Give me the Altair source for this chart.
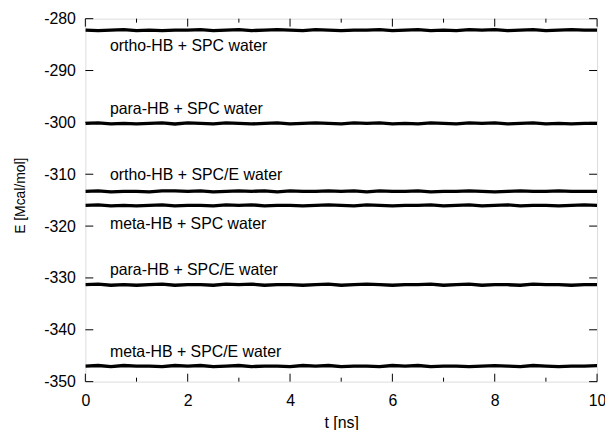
import altair as alt
import pandas as pd

T = [0.0, 0.25, 0.5, 0.75, 1.0, 1.25, 1.5, 1.75, 2.0, 2.25, 2.5, 2.75, 3.0, 3.25,
     3.5, 3.75, 4.0, 4.25, 4.5, 4.75, 5.0, 5.25, 5.5, 5.75, 6.0, 6.25, 6.5, 6.75,
     7.0, 7.25, 7.5, 7.75, 8.0, 8.25, 8.5, 8.75, 9.0, 9.25, 9.5, 9.75, 10.0]

ortho_spc = [-282.2, -282.3, -282.2, -282.1, -282.3, -282.2, -282.3, -282.2, -282.2, -282.1,
             -282.3, -282.2, -282.1, -282.3, -282.2, -282.1, -282.2, -282.3, -282.1, -282.2,
             -282.3, -282.2, -282.2, -282.1, -282.3, -282.2, -282.1, -282.3, -282.2, -282.3,
             -282.1, -282.2, -282.1, -282.3, -282.2, -282.1, -282.3, -282.2, -282.1, -282.2,
             -282.2]
para_spc = [-300.2, -300.1, -300.3, -300.2, -300.3, -300.2, -300.1, -300.3, -300.1, -300.2,
            -300.3, -300.1, -300.2, -300.3, -300.2, -300.1, -300.3, -300.2, -300.1, -300.2,
            -300.3, -300.1, -300.2, -300.1, -300.3, -300.2, -300.3, -300.1, -300.2, -300.3,
            -300.1, -300.2, -300.1, -300.3, -300.2, -300.1, -300.3, -300.2, -300.3, -300.2,
            -300.2]
ortho_spce = [-313.3, -313.2, -313.4, -313.3, -313.3, -313.4, -313.2, -313.2, -313.3, -313.2,
              -313.4, -313.3, -313.2, -313.3, -313.2, -313.4, -313.2, -313.3, -313.3, -313.2,
              -313.3, -313.2, -313.4, -313.2, -313.3, -313.3, -313.2, -313.4, -313.3, -313.3,
              -313.2, -313.3, -313.4, -313.3, -313.2, -313.3, -313.3, -313.2, -313.3, -313.3,
              -313.3]
meta_spc = [-316.0, -315.9, -316.1, -316.0, -316.1, -316.0, -315.9, -316.1, -316.0, -316.0,
            -316.1, -315.9, -316.0, -315.9, -316.1, -316.0, -316.0, -316.1, -316.0, -315.9,
            -316.0, -316.1, -315.9, -316.0, -316.1, -316.0, -316.0, -315.9, -316.1, -316.0,
            -315.9, -316.1, -316.0, -315.9, -316.1, -316.0, -316.0, -316.1, -316.0, -315.9,
            -316.0]
para_spce = [-331.3, -331.2, -331.4, -331.3, -331.4, -331.3, -331.2, -331.4, -331.3, -331.3,
             -331.4, -331.2, -331.3, -331.2, -331.4, -331.3, -331.3, -331.4, -331.3, -331.2,
             -331.4, -331.3, -331.2, -331.3, -331.4, -331.3, -331.3, -331.2, -331.4, -331.3,
             -331.2, -331.4, -331.3, -331.3, -331.4, -331.2, -331.3, -331.3, -331.4, -331.3,
             -331.3]
meta_spce = [-347.0, -346.9, -347.1, -346.9, -347.0, -347.0, -347.1, -346.9, -347.0, -346.9,
             -347.1, -347.0, -346.9, -347.1, -347.0, -347.0, -347.1, -346.9, -347.0, -346.9,
             -347.1, -347.0, -347.0, -347.1, -346.9, -347.0, -346.9, -347.1, -347.0, -347.0,
             -347.1, -347.0, -346.9, -347.0, -347.1, -346.9, -347.0, -347.1, -347.0, -347.0,
             -346.9]

series_names = ["ortho-HB + SPC water", "para-HB + SPC water", "ortho-HB + SPC/E water",
                "meta-HB + SPC water", "para-HB + SPC/E water", "meta-HB + SPC/E water"]
series_vals = [ortho_spc, para_spc, ortho_spce, meta_spc, para_spce, meta_spce]

label_x = [0.48, 0.48, 0.48, 0.48, 0.48, 0.48]
label_y = [-285.2, -297.5, -310.2, -319.6, -328.4, -344.2]

x_major = [0, 2, 4, 6, 8, 10]
x_minor = [1, 3, 5, 7, 9]
y_major = [-350, -340, -330, -320, -310, -300, -290, -280]

rows = []
for name, vals in zip(series_names, series_vals):
    for t, v in zip(T, vals):
        rows.append({"t": t, "E": v, "series": name})
df = pd.DataFrame(rows)
labels_df = pd.DataFrame({"t": label_x, "E": label_y, "label": series_names})
xmaj_df = pd.DataFrame({"t": x_major})
xmin_df = pd.DataFrame({"t": x_minor})
ymaj_df = pd.DataFrame({"E": y_major})

W, H = 516, 366
FONT = "Liberation Sans"
HYPHEN = "(datum.value < 0 ? '-' : '') + abs(datum.value)"

xscale = alt.Scale(domain=[0, 10], nice=False, zero=False)
yscale = alt.Scale(domain=[-350, -280], nice=False, zero=False)

lines = alt.Chart(df).mark_line(color="black", strokeWidth=3.4, clip=True).encode(
    x=alt.X("t:Q", scale=xscale, axis=alt.Axis(
        values=x_major, ticks=False, domain=False, grid=False, labelPadding=11,
        labelFontSize=16, labelFont=FONT, labelColor="black", labelFlush=False,
        title="t [ns]", titleFont=FONT, titleFontSize=16, titleFontWeight="normal",
        titleColor="black", titleX=258, titleY=41, titleBaseline="middle", titleAlign="center")),
    y=alt.Y("E:Q", scale=yscale, axis=alt.Axis(
        values=y_major, ticks=False, domain=False, grid=False, labelPadding=10,
        labelFontSize=16, labelFont=FONT, labelColor="black", labelFlush=False,
        labelExpr=HYPHEN,
        title="E [Mcal/mol]", titleFont=FONT, titleFontSize=14, titleFontWeight="normal",
        titleColor="black", titleAngle=-90, titleX=-65, titleY=178,
        titleBaseline="middle", titleAlign="center")),
    detail="series:N",
)

texts = alt.Chart(labels_df).mark_text(align="left", baseline="middle", fontSize=16,
                                        font=FONT, color="black").encode(
    x="t:Q", y="E:Q", text="label:N")

tick_b_maj = alt.Chart(xmaj_df).mark_rule(color="black", strokeWidth=1).encode(
    x="t:Q", y=alt.value(H), y2=alt.value(H - 8))
tick_t_maj = alt.Chart(xmaj_df).mark_rule(color="black", strokeWidth=1).encode(
    x="t:Q", y=alt.value(0), y2=alt.value(8))
tick_b_min = alt.Chart(xmin_df).mark_rule(color="black", strokeWidth=1).encode(
    x="t:Q", y=alt.value(H), y2=alt.value(H - 4))
tick_t_min = alt.Chart(xmin_df).mark_rule(color="black", strokeWidth=1).encode(
    x="t:Q", y=alt.value(0), y2=alt.value(4))
tick_l = alt.Chart(ymaj_df).mark_rule(color="black", strokeWidth=1).encode(
    y="E:Q", x=alt.value(0), x2=alt.value(8))
tick_r = alt.Chart(ymaj_df).mark_rule(color="black", strokeWidth=1).encode(
    y="E:Q", x=alt.value(W), x2=alt.value(W - 8))

chart = alt.layer(tick_b_maj, tick_t_maj, tick_b_min, tick_t_min, tick_l, tick_r,
                  lines, texts).properties(
    width=W, height=H,
    autosize=alt.AutoSizeParams(type="none"),
    padding={"left": 78, "top": 9, "right": 8, "bottom": 47},
).configure_view(stroke="black", strokeWidth=1.5).configure(background="white")

chart.save("out.html", embed_options={"renderer": "svg", "actions": False})
